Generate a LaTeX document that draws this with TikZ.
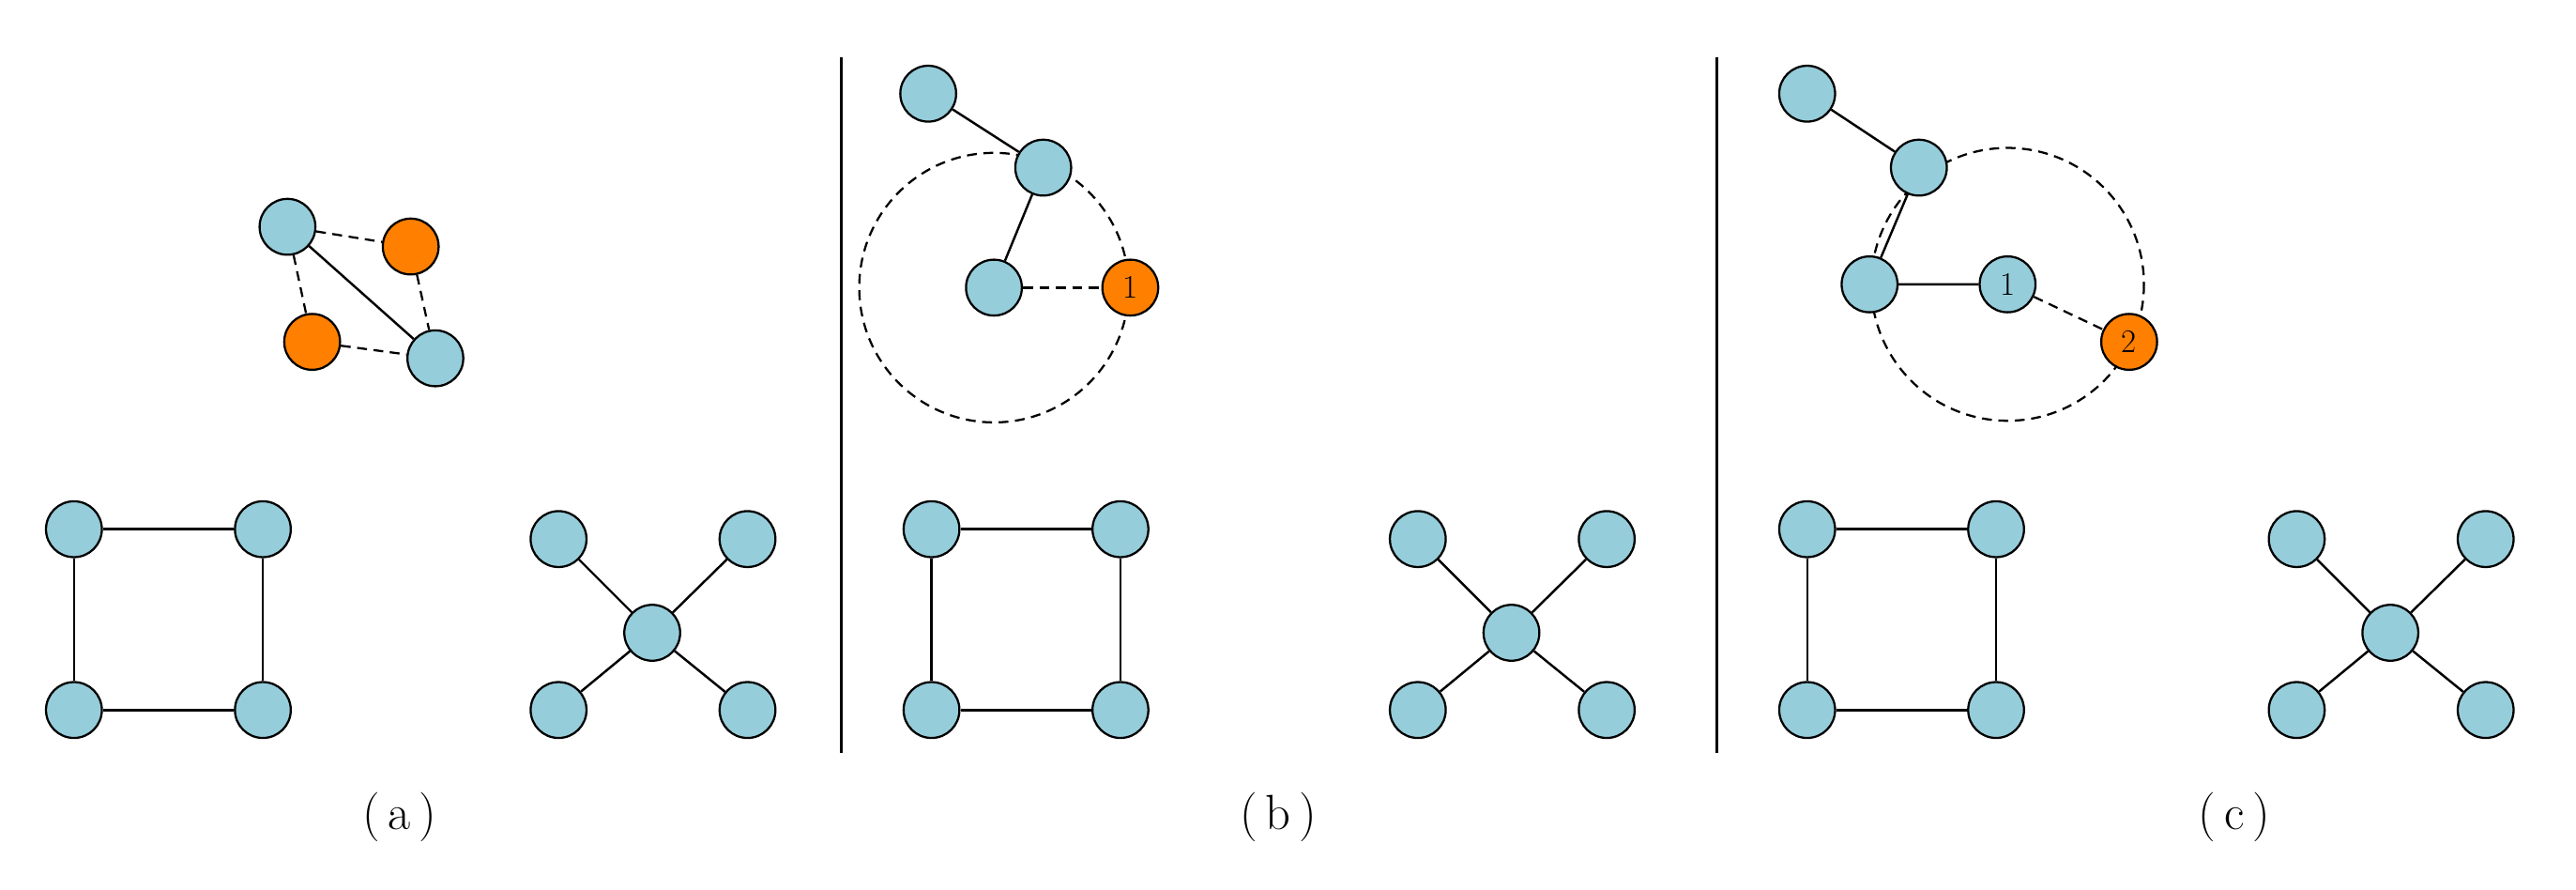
\documentclass[tikz,border=0pt]{standalone}
\begin{document}
\begin{tikzpicture}[x=1pt,y=-1pt,
  bn/.style={circle,draw=black,line width=1.3pt,fill=nodeblue,minimum size=34pt,inner sep=0pt,font=\fontsize{20}{20}\selectfont},
  on/.style={bn,fill=nodeorange},
  ln/.style={line width=1.4pt},
  dl/.style={line width=1.3pt,dashed,dash pattern=on 6pt off 4pt},
  lab/.style={font=\fontsize{30}{32}\selectfont}]
\definecolor{nodeblue}{RGB}{150,205,218}
\definecolor{nodeorange}{RGB}{255,127,0}
\useasboundingbox (0,0) rectangle (1568,541);
% panel a
\node[bn] (a1) at (175,138) {};
\node[on] (a2) at (250,150) {};
\node[on] (a3) at (190,208) {};
\node[bn] (a4) at (265,218) {};
\draw[ln] (a1)--(a4);
\draw[dl] (a1)--(a2) (a1)--(a3) (a2)--(a4) (a3)--(a4);
\foreach \p/\ox in {a/0,b/522,c/1055}{
  \node[bn] (\p s1) at (45+\ox,322) {};
  \node[bn] (\p s2) at (160+\ox,322) {};
  \node[bn] (\p s3) at (45+\ox,432) {};
  \node[bn] (\p s4) at (160+\ox,432) {};
  \draw[ln] (\p s1)--(\p s2)--(\p s4)--(\p s3)--(\p s1);
}
\foreach \p/\ox in {a/0,b/523,c/1058}{
  \node[bn] (\p x0) at (397+\ox,385) {};
  \node[bn] (\p x1) at (340+\ox,328) {};
  \node[bn] (\p x2) at (455+\ox,328) {};
  \node[bn] (\p x3) at (340+\ox,432) {};
  \node[bn] (\p x4) at (455+\ox,432) {};
  \draw[ln] (\p x0)--(\p x1) (\p x0)--(\p x2) (\p x0)--(\p x3) (\p x0)--(\p x4);
}
% separators
\coordinate (s1t) at (512,35); \coordinate (s1b) at (512,458);
\coordinate (s2t) at (1045,35); \coordinate (s2b) at (1045,458);
\draw[ln] (s1t)--(s1b) (s2t)--(s2b);
% panel b
\draw[dl] (605,175) circle (82);
\node[bn] (b1) at (565,57) {};
\node[bn] (b2) at (635,102) {};
\node[bn] (b3) at (605,175) {};
\node[on] (b4) at (688,175) {1};
\draw[ln] (b1)--(b2)--(b3);
\draw[dl] (b3)--(b4);
% panel c
\draw[dl] (1222,173) circle (83);
\node[bn] (c1) at (1100,57) {};
\node[bn] (c2) at (1168,102) {};
\node[bn] (c3) at (1138,173) {};
\node[bn] (c4) at (1222,173) {1};
\node[on] (c5) at (1296,208) {2};
\draw[ln] (c1)--(c2)--(c3)--(c4);
\draw[dl] (c4)--(c5);
% labels
\node[lab] (la) at (243,497) {(\,a\,)};
\node[lab] (lb) at (778,497) {(\,b\,)};
\node[lab] (lc) at (1360,497) {(\,c\,)};
\end{tikzpicture}
\end{document}
